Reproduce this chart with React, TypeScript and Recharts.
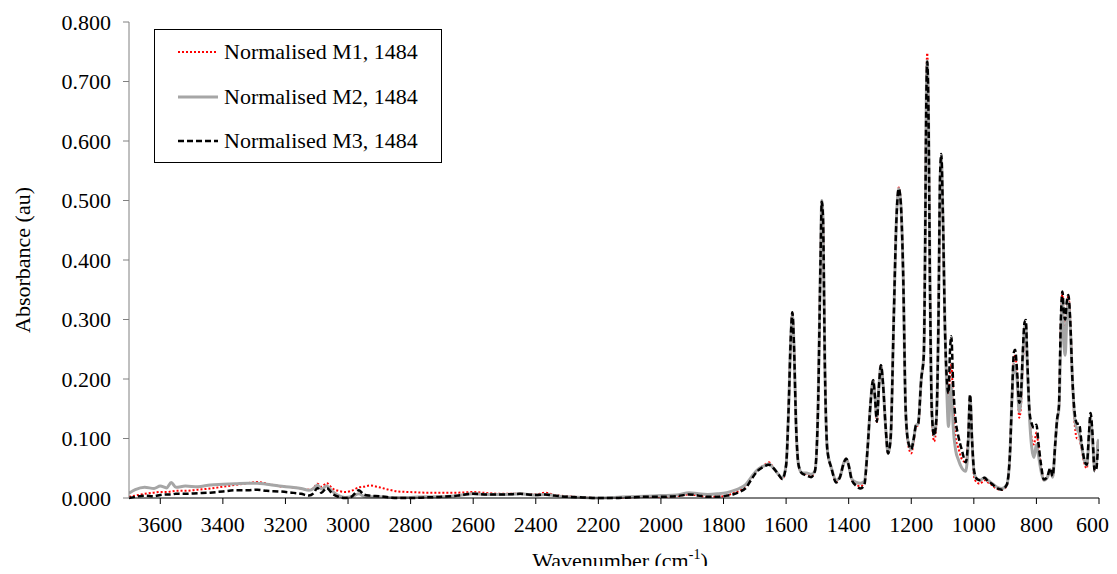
import React from "react";
import { LineChart, Line, XAxis, YAxis, Legend, Label } from "recharts";

const wavenumbers = [
  3700, 3680, 3650, 3620, 3600, 3580, 3565, 3550, 3520, 3480, 3440, 3400, 3360, 3320, 3290, 3260, 3220, 3180, 3150, 3125,
  3110, 3098, 3085, 3068, 3050, 3030, 3010, 2990, 2965, 2950, 2930, 2900, 2870, 2840, 2800, 2750, 2700, 2650, 2600, 2550,
  2500, 2450, 2400, 2370, 2340, 2300, 2250, 2200, 2150, 2100, 2050, 2000, 1950, 1910, 1880, 1850, 1820, 1790, 1770, 1750,
  1730, 1710, 1690, 1670, 1655, 1640, 1625, 1612, 1600, 1592, 1585, 1580, 1575, 1568, 1560, 1550, 1535, 1520, 1508, 1498,
  1490, 1486, 1482, 1476, 1468, 1455, 1440, 1428, 1415, 1408, 1400, 1390, 1375, 1362, 1350, 1340, 1330, 1322, 1316, 1310,
  1303, 1297, 1290, 1282, 1274, 1266, 1256, 1248, 1240, 1234, 1226, 1218, 1210, 1200, 1192, 1185, 1178, 1168, 1160, 1156,
  1152, 1149, 1145, 1140, 1134, 1127, 1120, 1113, 1108, 1104, 1099, 1092, 1087, 1081, 1076, 1072, 1066, 1058, 1050, 1038,
  1026, 1018, 1012, 1006, 999, 990, 980, 966, 955, 943, 925, 910, 895, 885, 878, 872, 868, 862, 855, 850,
  844, 838, 834, 829, 822, 815, 808, 800, 793, 785, 776, 765, 756, 748, 740, 734, 728, 722, 717, 712,
  708, 703, 698, 692, 685, 677, 670, 664, 655, 645, 639, 632, 627, 621, 614, 608, 603, 600,
];

const m1 = [
  0.002, 0.004, 0.007, 0.009, 0.010, 0.010, 0.011, 0.012, 0.012, 0.014, 0.016, 0.019, 0.022, 0.025, 0.027, 0.024, 0.020, 0.018, 0.016, 0.014,
  0.017, 0.024, 0.019, 0.025, 0.016, 0.012, 0.010, 0.012, 0.018, 0.019, 0.021, 0.018, 0.014, 0.011, 0.010, 0.009, 0.009, 0.009, 0.010, 0.008,
  0.007, 0.007, 0.006, 0.009, 0.005, 0.003, 0.001, 0.000, 0.000, 0.001, 0.002, 0.002, 0.003, 0.006, 0.004, 0.002, 0.002, 0.004, 0.008, 0.012,
  0.020, 0.035, 0.048, 0.055, 0.060, 0.050, 0.040, 0.032, 0.055, 0.150, 0.270, 0.310, 0.260, 0.120, 0.055, 0.042, 0.040, 0.037, 0.045, 0.150,
  0.400, 0.495, 0.470, 0.220, 0.080, 0.050, 0.028, 0.035, 0.060, 0.066, 0.055, 0.031, 0.022, 0.020, 0.025, 0.080, 0.160, 0.198, 0.170, 0.128,
  0.190, 0.223, 0.190, 0.120, 0.075, 0.100, 0.300, 0.460, 0.522, 0.500, 0.380, 0.150, 0.090, 0.075, 0.095, 0.120, 0.122, 0.200, 0.240, 0.400,
  0.680, 0.748, 0.650, 0.350, 0.140, 0.095, 0.120, 0.300, 0.500, 0.550, 0.470, 0.280, 0.200, 0.160, 0.210, 0.225, 0.160, 0.100, 0.085, 0.065,
  0.060, 0.100, 0.170, 0.100, 0.035, 0.026, 0.024, 0.030, 0.026, 0.022, 0.015, 0.014, 0.020, 0.070, 0.170, 0.230, 0.240, 0.210, 0.135, 0.150,
  0.220, 0.280, 0.290, 0.220, 0.140, 0.100, 0.090, 0.110, 0.085, 0.050, 0.030, 0.035, 0.048, 0.035, 0.090, 0.130, 0.150, 0.290, 0.345, 0.290,
  0.250, 0.310, 0.340, 0.300, 0.200, 0.120, 0.100, 0.100, 0.080, 0.055, 0.050, 0.100, 0.135, 0.100, 0.048, 0.060, 0.095, 0.098,
];

const m2 = [
  0.008, 0.014, 0.018, 0.016, 0.020, 0.017, 0.026, 0.018, 0.020, 0.019, 0.022, 0.023, 0.024, 0.025, 0.025, 0.023, 0.020, 0.018, 0.016, 0.013,
  0.016, 0.022, 0.015, 0.020, 0.011, 0.004, 0.001, 0.002, 0.007, 0.003, 0.002, 0.002, 0.001, 0.001, 0.001, 0.002, 0.002, 0.004, 0.007, 0.006,
  0.006, 0.007, 0.005, 0.006, 0.004, 0.002, 0.001, 0.000, 0.001, 0.002, 0.003, 0.004, 0.005, 0.009, 0.007, 0.006, 0.007, 0.009, 0.012, 0.016,
  0.022, 0.036, 0.048, 0.054, 0.057, 0.050, 0.040, 0.034, 0.055, 0.150, 0.270, 0.308, 0.260, 0.120, 0.055, 0.042, 0.042, 0.040, 0.045, 0.150,
  0.400, 0.500, 0.470, 0.220, 0.080, 0.050, 0.030, 0.035, 0.060, 0.066, 0.055, 0.032, 0.026, 0.025, 0.028, 0.080, 0.160, 0.198, 0.170, 0.135,
  0.190, 0.223, 0.190, 0.120, 0.075, 0.100, 0.300, 0.460, 0.520, 0.500, 0.380, 0.150, 0.095, 0.082, 0.100, 0.122, 0.125, 0.200, 0.240, 0.400,
  0.670, 0.735, 0.650, 0.350, 0.150, 0.105, 0.130, 0.300, 0.530, 0.570, 0.480, 0.280, 0.190, 0.120, 0.170, 0.190, 0.120, 0.080, 0.065, 0.050,
  0.045, 0.090, 0.170, 0.100, 0.042, 0.032, 0.030, 0.034, 0.030, 0.025, 0.018, 0.016, 0.022, 0.070, 0.170, 0.225, 0.215, 0.200, 0.145, 0.160,
  0.230, 0.285, 0.292, 0.220, 0.135, 0.085, 0.068, 0.090, 0.070, 0.045, 0.030, 0.035, 0.048, 0.035, 0.090, 0.130, 0.150, 0.270, 0.335, 0.260,
  0.240, 0.300, 0.330, 0.290, 0.200, 0.130, 0.115, 0.110, 0.085, 0.060, 0.055, 0.100, 0.135, 0.100, 0.050, 0.060, 0.095, 0.098,
];

const m3 = [
  0.000, 0.002, 0.004, 0.003, 0.005, 0.006, 0.006, 0.007, 0.007, 0.008, 0.009, 0.011, 0.013, 0.013, 0.014, 0.012, 0.011, 0.009, 0.007, 0.004,
  0.008, 0.017, 0.009, 0.017, 0.007, 0.002, 0.000, 0.002, 0.013, 0.006, 0.004, 0.003, 0.001, 0.000, 0.000, 0.001, 0.002, 0.004, 0.007, 0.006,
  0.006, 0.007, 0.005, 0.006, 0.004, 0.002, 0.001, 0.000, 0.000, 0.001, 0.002, 0.002, 0.003, 0.006, 0.004, 0.002, 0.002, 0.004, 0.006, 0.010,
  0.016, 0.032, 0.046, 0.053, 0.056, 0.050, 0.040, 0.032, 0.055, 0.150, 0.270, 0.312, 0.260, 0.120, 0.055, 0.042, 0.038, 0.035, 0.045, 0.150,
  0.400, 0.498, 0.470, 0.220, 0.080, 0.050, 0.026, 0.035, 0.060, 0.066, 0.055, 0.030, 0.020, 0.016, 0.022, 0.080, 0.160, 0.198, 0.170, 0.128,
  0.190, 0.223, 0.190, 0.120, 0.075, 0.100, 0.300, 0.460, 0.520, 0.500, 0.380, 0.150, 0.095, 0.082, 0.100, 0.122, 0.125, 0.200, 0.240, 0.400,
  0.665, 0.733, 0.650, 0.350, 0.140, 0.105, 0.130, 0.300, 0.540, 0.578, 0.480, 0.280, 0.205, 0.176, 0.250, 0.272, 0.190, 0.130, 0.105, 0.080,
  0.060, 0.100, 0.174, 0.100, 0.045, 0.032, 0.030, 0.034, 0.028, 0.024, 0.016, 0.014, 0.022, 0.070, 0.170, 0.245, 0.249, 0.215, 0.160, 0.170,
  0.240, 0.295, 0.299, 0.230, 0.145, 0.125, 0.118, 0.123, 0.090, 0.055, 0.031, 0.036, 0.050, 0.037, 0.090, 0.132, 0.155, 0.300, 0.347, 0.310,
  0.300, 0.330, 0.341, 0.300, 0.200, 0.140, 0.125, 0.125, 0.090, 0.060, 0.056, 0.110, 0.143, 0.110, 0.045, 0.050, 0.080, 0.078,
];

const xTicks = [3600, 3400, 3200, 3000, 2800, 2600, 2400, 2200, 2000, 1800, 1600, 1400, 1200, 1000, 800, 600];
const yTicks = [0, 0.1, 0.2, 0.3, 0.4, 0.5, 0.6, 0.7, 0.8];

const seriesNames = ["Normalised M1, 1484", "Normalised M2, 1484", "Normalised M3, 1484"];

const data = wavenumbers.map((w, i) => ({ w, m1: m1[i], m2: m2[i], m3: m3[i] }));

const FONT = "'Liberation Serif', 'Times New Roman', serif";

const legendStyles = [
  { stroke: "#ff0000", width: 2, dash: "2 2" },
  { stroke: "#a6a6a6", width: 3, dash: undefined as string | undefined },
  { stroke: "#000000", width: 2.5, dash: "6 3" },
];

const renderLegend = () => (
  <div
    style={{
      position: "relative",
      width: 288,
      height: 134,
      border: "1px solid #000",
      boxSizing: "border-box",
      background: "#fff",
      fontFamily: FONT,
      fontSize: 22,
      color: "#000",
    }}
  >
    {seriesNames.map((name, i) => (
      <div
        key={name}
        style={{
          position: "absolute",
          left: 23,
          top: 22 + i * 44.5 - 13,
          height: 26,
          display: "flex",
          alignItems: "center",
          whiteSpace: "nowrap",
        }}
      >
        <svg width={40} height={6} style={{ marginRight: 6 }}>
          <line
            x1={0}
            y1={3}
            x2={40}
            y2={3}
            stroke={legendStyles[i].stroke}
            strokeWidth={legendStyles[i].width}
            strokeDasharray={legendStyles[i].dash}
          />
        </svg>
        <span>{name}</span>
      </div>
    ))}
  </div>
);

const XTitle = (props: any) => {
  const vb = props.viewBox || {};
  const cx = vb.x + vb.width / 2 + 6;
  return (
    <text x={cx} y={560} textAnchor="middle" fontFamily={FONT} fontSize={22} fill="#000">
      Wavenumber (cm
      <tspan fontSize={14} dy={-9}>-1</tspan>
      <tspan dy={9}>)</tspan>
    </text>
  );
};

const YTitle = (props: any) => {
  const vb = props.viewBox || {};
  const cy = vb.y + vb.height / 2;
  return (
    <text
      x={14}
      y={cy}
      transform={`rotate(-90, 14, ${cy})`}
      textAnchor="middle"
      dominantBaseline="central"
      fontFamily={FONT}
      fontSize={22}
      fill="#000"
    >
      Absorbance (au)
    </text>
  );
};

export default function App() {
  return (
    <div style={{ width: 1101, height: 558 }}>
      <LineChart
        width={1101}
        height={566}
        data={data}
        margin={{ top: 14, right: 10, bottom: 8, left: 0 }}
      >
        <XAxis
          dataKey="w"
          type="number"
          domain={[600, 3700]}
          reversed
          ticks={xTicks}
          allowDataOverflow
          height={68}
          stroke="#000"
          tickSize={6}
          tickMargin={12}
          tick={{ fontFamily: FONT, fontSize: 22, fill: "#000" }}
          tickLine={{ stroke: "#000" }}
        >
          <Label content={<XTitle />} />
        </XAxis>
        <YAxis
          type="number"
          domain={[0, 0.8]}
          ticks={yTicks}
          width={121}
          stroke="#808080"
          tickSize={6}
          tickMargin={12}
          tickFormatter={(v: number) => v.toFixed(3)}
          tick={{ fontFamily: FONT, fontSize: 22, fill: "#000" }}
        >
          <Label content={<YTitle />} />
        </YAxis>
        <Legend
          layout="vertical"
          align="center"
          verticalAlign="middle"
          content={renderLegend}
          wrapperStyle={{ left: 146, top: 21, width: 288, height: 134 }}
        />
        <Line
          dataKey="m1"
          name={seriesNames[0]}
          type="monotone"
          stroke="#ff0000"
          strokeWidth={2}
          strokeDasharray="2 2"
          dot={false}
          isAnimationActive={false}
        />
        <Line
          dataKey="m2"
          name={seriesNames[1]}
          type="monotone"
          stroke="#a6a6a6"
          strokeWidth={3}
          dot={false}
          isAnimationActive={false}
        />
        <Line
          dataKey="m3"
          name={seriesNames[2]}
          type="monotone"
          stroke="#000000"
          strokeWidth={2.5}
          strokeDasharray="6 3"
          dot={false}
          isAnimationActive={false}
        />
      </LineChart>
    </div>
  );
}
